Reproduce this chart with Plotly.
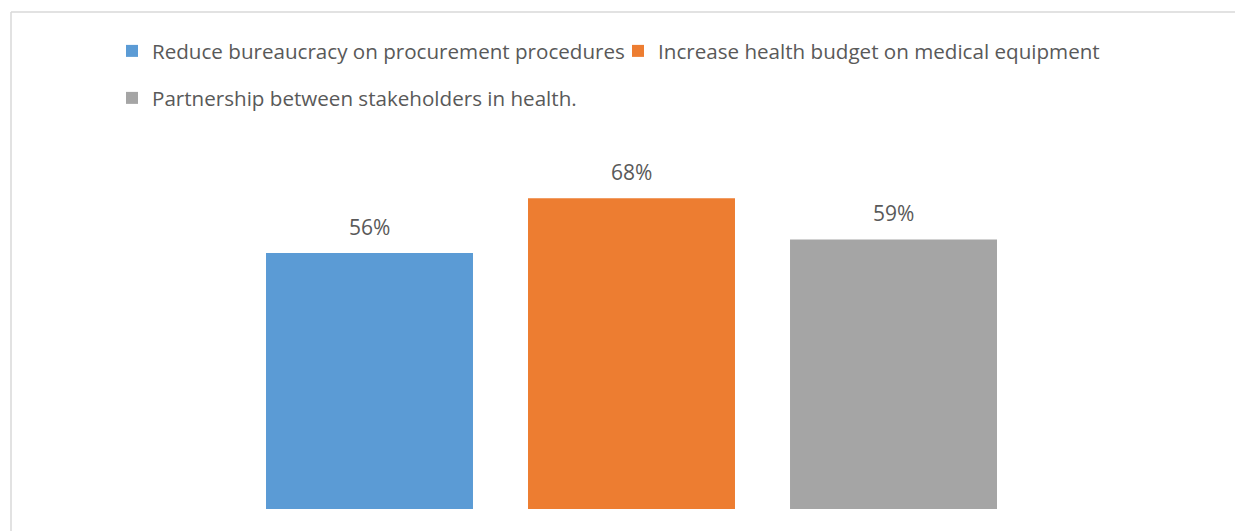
import plotly.graph_objects as go

series_names = [
    "Reduce bureaucracy on procurement procedures",
    "Increase health budget on medical equipment",
    "Partnership between stakeholders in health.",
]
series_values = [56, 68, 59]
series_colors = ["#5B9BD5", "#ED7D31", "#A5A5A5"]
value_labels = ["56%", "68%", "59%"]

FONT = "'Open Sans', sans-serif"
TEXT_COLOR = "#595959"
W, H = 1235, 531

# one legend per series so each entry sits at its own spot
legend_ids = ["legend", "legend2", "legend3"]
legend_pos = [(112, 51), (618, 51), (112, 98)]

fig = go.Figure()
for i, (name, val, col) in enumerate(zip(series_names, series_values, series_colors)):
    fig.add_trace(go.Bar(
        x=[i], y=[val], name=name,
        marker=dict(color=col, line=dict(width=0)),
        width=0.79,
        legend=legend_ids[i],
        hoverinfo="skip",
    ))
    fig.add_annotation(
        x=i, y=val, text=value_labels[i], showarrow=False,
        xref="x", yref="y", yanchor="bottom", yshift=10,
        font=dict(family=FONT, size=21, color=TEXT_COLOR),
    )

# chart border: top and left edges
fig.add_shape(type="line", xref="paper", yref="paper",
              x0=11 / W, x1=1.2, y0=1 - 12 / H, y1=1 - 12 / H,
              line=dict(color="#D9D9D9", width=1.5))
fig.add_shape(type="line", xref="paper", yref="paper",
              x0=11 / W, x1=11 / W, y0=-0.1, y1=1 - 12 / H,
              line=dict(color="#D9D9D9", width=1.5))

legend_font = dict(family=FONT, size=20.6, color=TEXT_COLOR)
legends = {}
for lid, (px, py) in zip(legend_ids, legend_pos):
    legends[lid] = dict(orientation="h", x=px / W, y=1 - py / H,
                        xanchor="left", yanchor="middle",
                        font=legend_font, bgcolor="rgba(0,0,0,0)")

fig.update_layout(
    width=W, height=H,
    margin=dict(l=0, r=0, t=0, b=0),
    paper_bgcolor="white", plot_bgcolor="white",
    barmode="overlay",
    xaxis=dict(range=[-1.4103, 3.3034], visible=False, fixedrange=True),
    yaxis=dict(range=[-4.81, 111.38], visible=False, fixedrange=True),
    showlegend=True,
    **legends,
)

fig.write_html("out.html")
